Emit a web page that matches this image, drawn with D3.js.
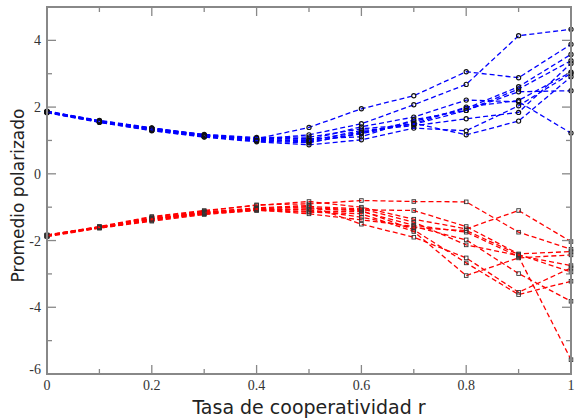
<!DOCTYPE html>
<html>
<head>
<meta charset="utf-8">
<script src="https://cdn.jsdelivr.net/npm/d3@7"></script>
<style>
  html, body { margin: 0; padding: 0; background: #fff; }
  svg { display: block; }
</style>
</head>
<body>
<div id="chart"></div>
<script>
// Polarized average vs cooperativity rate, 10 runs per branch.
const rValues = [0, 0.1, 0.2, 0.3, 0.4, 0.5, 0.6, 0.7, 0.8, 0.9, 1.0];

const blueRuns = [
  [1.87, 1.58, 1.36, 1.16, 1.05, 1.39, 1.95, 2.34, 3.06, 2.88, 3.88],
  [1.85, 1.57, 1.34, 1.14, 1.03, 1.17, 1.50, 2.07, 2.68, 4.14, 4.33],
  [1.86, 1.56, 1.33, 1.13, 1.02, 1.02, 1.41, 1.70, 2.21, 2.16, 1.22],
  [1.84, 1.55, 1.30, 1.11, 0.98, 0.93, 1.23, 1.57, 1.96, 2.61, 3.58],
  [1.88, 1.60, 1.38, 1.17, 1.06, 1.05, 1.11, 1.62, 1.90, 2.54, 3.39],
  [1.85, 1.57, 1.35, 1.14, 1.01, 0.98, 1.30, 1.44, 1.65, 1.84, 3.31],
  [1.83, 1.54, 1.29, 1.10, 0.96, 0.87, 1.02, 1.37, 1.29, 2.04, 3.01],
  [1.86, 1.58, 1.36, 1.15, 1.04, 0.95, 1.20, 1.52, 1.17, 1.58, 2.91],
  [1.87, 1.59, 1.37, 1.18, 1.09, 1.10, 1.35, 1.48, 1.90, 2.46, 2.49],
  [1.84, 1.56, 1.32, 1.12, 1.00, 1.00, 1.25, 1.50, 2.00, 2.20, 3.05]
];

const redRuns = [
  [-1.86, -1.60, -1.30, -1.12, -0.93, -0.90, -0.80, -0.83, -0.84, -1.75, -2.26],
  [-1.84, -1.58, -1.28, -1.10, -0.95, -0.83, -1.00, -1.36, -1.65, -1.10, -2.03],
  [-1.85, -1.61, -1.35, -1.16, -1.03, -1.02, -1.08, -1.10, -1.58, -2.40, -2.33],
  [-1.87, -1.62, -1.38, -1.19, -1.07, -1.13, -1.13, -1.54, -1.75, -2.48, -5.57],
  [-1.83, -1.59, -1.36, -1.18, -1.08, -1.20, -1.38, -1.58, -1.98, -2.99, -3.82],
  [-1.86, -1.60, -1.33, -1.15, -1.02, -0.95, -1.51, -1.90, -2.52, -3.55, -2.82],
  [-1.85, -1.61, -1.40, -1.20, -1.09, -1.05, -1.10, -1.68, -2.67, -3.62, -3.22],
  [-1.88, -1.63, -1.42, -1.22, -1.10, -1.15, -1.20, -1.73, -3.05, -2.52, -2.43],
  [-1.84, -1.59, -1.34, -1.14, -1.05, -0.98, -1.05, -1.45, -2.13, -2.45, -2.75],
  [-1.86, -1.60, -1.37, -1.17, -1.06, -1.08, -1.30, -1.62, -1.70, -2.42, -2.94]
];

const xTicks = [0, 0.2, 0.4, 0.6, 0.8, 1];
const xMinorTicks = [0.1, 0.3, 0.5, 0.7, 0.9];
const yTicks = [-6, -4, -2, 0, 2, 4];
const yMinorTicks = [-5, -3, -1, 1, 3];

const W = 575, H = 418;
const margin = { left: 47, right: 4, top: 7, bottom: 44 };
const axisGray = '#888';

const svg = d3.select('#chart').append('svg')
  .attr('width', W).attr('height', H);

const x = d3.scaleLinear().domain([0, 1]).range([margin.left, W - margin.right]);
const y = d3.scaleLinear().domain([-6, 5]).range([H - margin.bottom, margin.top]);

const line = d3.line().x((d, i) => x(rValues[i])).y(d => y(d));

function drawRun(vals, color, marker) {
  svg.append('path')
    .attr('d', line(vals))
    .attr('fill', 'none')
    .attr('stroke', color)
    .attr('stroke-width', 1.3)
    .attr('stroke-dasharray', '5,3');
  const g = svg.append('g');
  if (marker === 'circle') {
    g.selectAll('circle').data(vals).enter().append('circle')
      .attr('cx', (d, i) => x(rValues[i]))
      .attr('cy', d => y(d))
      .attr('r', 2.1)
      .attr('fill', 'none')
      .attr('stroke', '#111')
      .attr('stroke-width', 1.1);
  } else {
    g.selectAll('rect').data(vals).enter().append('rect')
      .attr('x', (d, i) => x(rValues[i]) - 1.8)
      .attr('y', d => y(d) - 1.8)
      .attr('width', 3.6).attr('height', 3.6)
      .attr('fill', 'none')
      .attr('stroke', '#333')
      .attr('stroke-width', 0.9);
  }
}

blueRuns.forEach(v => drawRun(v, '#0000ff', 'circle'));
redRuns.forEach(v => drawRun(v, '#ff0000', 'square'));

// frame + inward ticks on all four sides
const x0 = x(0), x1 = x(1), y0 = y(-6), y1 = y(5);
const frame = svg.append('g').attr('stroke', axisGray).attr('fill', 'none');
frame.append('rect')
  .attr('x', x0).attr('y', y1).attr('width', x1 - x0).attr('height', y0 - y1)
  .attr('stroke-width', 2);

function xTick(v, len) {
  frame.append('line').attr('x1', x(v)).attr('x2', x(v)).attr('y1', y0).attr('y2', y0 - len).attr('stroke-width', 1.3);
  frame.append('line').attr('x1', x(v)).attr('x2', x(v)).attr('y1', y1).attr('y2', y1 + len).attr('stroke-width', 1.3);
}
function yTick(v, len) {
  frame.append('line').attr('y1', y(v)).attr('y2', y(v)).attr('x1', x0).attr('x2', x0 + len).attr('stroke-width', 1.3);
  frame.append('line').attr('y1', y(v)).attr('y2', y(v)).attr('x1', x1).attr('x2', x1 - len).attr('stroke-width', 1.3);
}
xTicks.forEach(v => xTick(v, 9));
xMinorTicks.forEach(v => xTick(v, 5));
yTicks.forEach(v => yTick(v, 9));
yMinorTicks.forEach(v => yTick(v, 5));

const labelFont = '"Liberation Serif", "DejaVu Serif", serif';
svg.append('g').selectAll('text').data(xTicks).enter().append('text')
  .attr('x', d => x(d))
  .attr('y', y0 + 16)
  .attr('text-anchor', 'middle')
  .attr('font-family', labelFont)
  .attr('font-size', 14)
  .attr('fill', '#333')
  .text(d => d3.format('~g')(d));

svg.append('g').selectAll('text').data(yTicks).enter().append('text')
  .attr('x', x0 - 6)
  .attr('y', d => d === -6 ? y(d) : y(d) + 5)
  .attr('text-anchor', 'end')
  .attr('font-family', labelFont)
  .attr('font-size', 14)
  .attr('fill', '#333')
  .text(d => d);

svg.append('text')
  .attr('x', (x0 + x1) / 2)
  .attr('y', 414)
  .attr('text-anchor', 'middle')
  .attr('font-family', '"DejaVu Sans", sans-serif')
  .attr('font-size', 19)
  .attr('fill', '#222')
  .text('Tasa de cooperatividad r');

svg.append('text')
  .attr('transform', `translate(24,${(y0 + y1) / 2 + 5}) rotate(-90)`)
  .attr('text-anchor', 'middle')
  .attr('font-family', '"DejaVu Sans", sans-serif')
  .attr('font-size', 17)
  .attr('fill', '#222')
  .text('Promedio polarizado');
</script>
</body>
</html>
